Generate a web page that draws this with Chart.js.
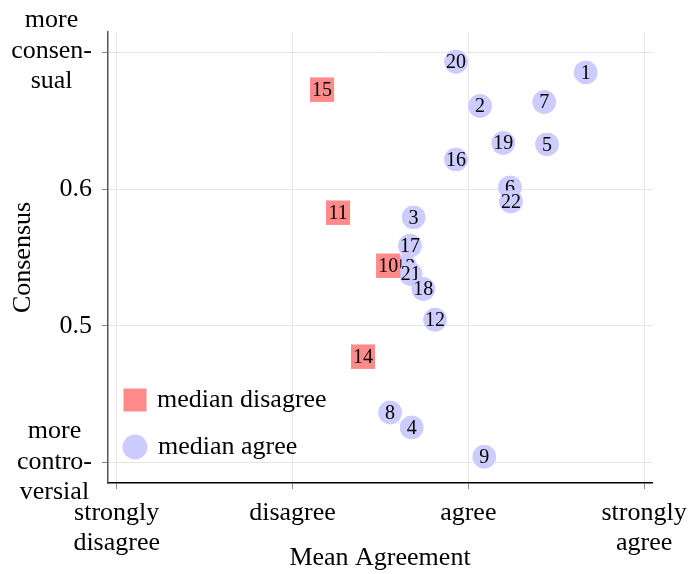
<!DOCTYPE html>
<html>
<head>
<meta charset="utf-8">
<script src="https://cdn.jsdelivr.net/npm/chart.js@4"></script>
<style>
  body { margin: 0; background: #fff; }
  #wrap { width: 691px; height: 574px; }
</style>
</head>
<body>
<div id="wrap"><canvas id="c"></canvas></div>
<script>
// statements with median "disagree"
const disagreeIds = ['15', '11', '10', '14'];
const disagreeX = [2.168, 2.259, 2.545, 2.401];
const disagreeY = [0.6725, 0.5827, 0.544, 0.4776];

// statements with median "agree"
const agreeIds = ['20', '1', '2', '7', '19', '5', '16', '6', '22', '3', '17', '13', '21', '18', '12', '8', '4', '9'];
const agreeX = [2.930, 3.668, 3.067, 3.432, 3.199, 3.448, 2.930, 3.237, 3.243, 2.689, 2.668, 2.642, 2.672, 2.744, 2.811, 2.555, 2.678, 3.091];
const agreeY = [0.6929, 0.6851, 0.6606, 0.6635, 0.6336, 0.6326, 0.6216, 0.6012, 0.5909, 0.5793, 0.5586, 0.5433, 0.538, 0.527, 0.5046, 0.4369, 0.426, 0.4046];

const xTicks = [1, 2, 3, 4];
const xTickLabels = [['strongly', 'disagree'], 'disagree', 'agree', ['strongly', 'agree']];
const yTicks = [0.4, 0.5, 0.6, 0.7];
const yTickLabels = [['more', 'contro-', 'versial'], '0.5', '0.6', ['more', 'consen-', 'sual']];

const serif = '"Liberation Serif", "DejaVu Serif", serif';
const red = 'rgb(255,138,138)';
const blue = 'rgb(204,204,255)';

function pts(xs, ys, ids) {
  return xs.map((x, i) => ({ x: x, y: ys[i], id: ids[i] }));
}

// redraw each mark followed by its number, so later marks cover earlier labels
const pointLabels = {
  id: 'pointLabels',
  afterDatasetsDraw(chart) {
    const ctx = chart.ctx;
    ctx.save();
    const order = [1, 0];
    order.forEach(di => {
      const ds = chart.data.datasets[di];
      chart.getDatasetMeta(di).data.forEach((el, i) => {
        el.draw(ctx, chart.chartArea);
        ctx.font = '20px ' + serif;
        ctx.fillStyle = '#000';
        ctx.textAlign = 'center';
        ctx.textBaseline = 'middle';
        ctx.fillText(ds.data[i].id, el.x, el.y + 1);
      });
    });
    ctx.restore();
  }
};

// multi-line y tick labels, centred on their widest line
const yWordLabels = {
  id: 'yWordLabels',
  afterDraw(chart) {
    const ctx = chart.ctx;
    const ys = chart.scales.y;
    ctx.save();
    ctx.font = '26px ' + serif;
    ctx.fillStyle = '#000';
    ctx.textAlign = 'center';
    ctx.textBaseline = 'middle';
    const lh = 30.5;
    yTicks.forEach((v, i) => {
      const lab = yTickLabels[i];
      if (!Array.isArray(lab)) return;
      const w = Math.max(...lab.map(s => ctx.measureText(s).width));
      const cx = ys.right - 16 - w / 2;
      const cy = ys.getPixelForValue(v) - 1;
      lab.forEach((s, k) => {
        ctx.fillText(s, cx, cy + (k - (lab.length - 1) / 2) * lh);
      });
    });
    ctx.restore();
  }
};

const insideLegend = {
  id: 'insideLegend',
  afterDraw(chart) {
    const ctx = chart.ctx;
    const a = chart.chartArea;
    ctx.save();
    ctx.font = '26px ' + serif;
    ctx.textBaseline = 'middle';
    ctx.textAlign = 'left';
    const mx = a.left + 27;
    const y1 = a.bottom - 83, y2 = a.bottom - 36;
    ctx.fillStyle = red;
    ctx.fillRect(mx - 11.5, y1 - 11.5, 23, 23);
    ctx.fillStyle = blue;
    ctx.beginPath();
    ctx.arc(mx, y2, 12.5, 0, Math.PI * 2);
    ctx.fill();
    ctx.fillStyle = '#000';
    ctx.fillText(chart.data.datasets[0].label, a.left + 49, y1);
    ctx.fillText(chart.data.datasets[1].label, a.left + 50, y2);
    ctx.restore();
  }
};

new Chart(document.getElementById('c'), {
  type: 'scatter',
  data: {
    datasets: [
      {
        label: 'median disagree',
        data: pts(disagreeX, disagreeY, disagreeIds),
        pointStyle: 'rect',
        pointRadius: 17,
        backgroundColor: red,
        borderWidth: 0
      },
      {
        label: 'median agree',
        data: pts(agreeX, agreeY, agreeIds),
        pointStyle: 'circle',
        pointRadius: 11.7,
        backgroundColor: blue,
        borderWidth: 0
      }
    ]
  },
  options: {
    responsive: true,
    maintainAspectRatio: false,
    animation: false,
    events: [],
    layout: { padding: { top: 32, right: 39, left: 0, bottom: 0 } },
    plugins: { legend: { display: false }, tooltip: { enabled: false } },
    scales: {
      x: {
        type: 'linear',
        min: 0.9505,
        max: 4.045,
        afterFit(s) { s.height = 91; s.paddingLeft = 0; s.paddingRight = 0; },
        afterBuildTicks(s) { s.ticks = xTicks.map(v => ({ value: v })); },
        grid: { color: '#e6e6e6', tickColor: '#888', tickLength: 6 },
        border: { color: '#000', width: 1.5 },
        ticks: {
          autoSkip: false,
          maxRotation: 0,
          padding: 9,
          color: '#000',
          font: { family: serif, size: 26, lineHeight: 1.15 },
          callback(v) { const i = xTicks.indexOf(v); return i < 0 ? '' : xTickLabels[i]; }
        },
        title: {
          display: true,
          text: 'Mean Agreement',
          color: '#000',
          padding: { top: 0, bottom: 0 },
          font: { family: serif, size: 26, lineHeight: 1.2 }
        }
      },
      y: {
        min: 0.3854,
        max: 0.7146,
        afterFit(s) { s.width = 108; s.paddingTop = 0; s.paddingBottom = 0; },
        afterBuildTicks(s) { s.ticks = yTicks.map(v => ({ value: v })); },
        grid: { color: '#e6e6e6', tickColor: '#888', tickLength: 6 },
        border: { color: '#555', width: 1.5 },
        ticks: {
          autoSkip: false,
          padding: 10,
          color: '#000',
          font: { family: serif, size: 26 },
          callback(v) {
            const i = yTicks.findIndex(t => Math.abs(t - v) < 1e-6);
            const lab = i < 0 ? '' : yTickLabels[i];
            return Array.isArray(lab) ? '' : lab;
          }
        },
        title: {
          display: true,
          text: 'Consensus',
          color: '#000',
          padding: { top: 8, bottom: 0 },
          font: { family: serif, size: 26, lineHeight: 1.2 }
        }
      }
    }
  },
  plugins: [pointLabels, yWordLabels, insideLegend]
});
</script>
</body>
</html>
